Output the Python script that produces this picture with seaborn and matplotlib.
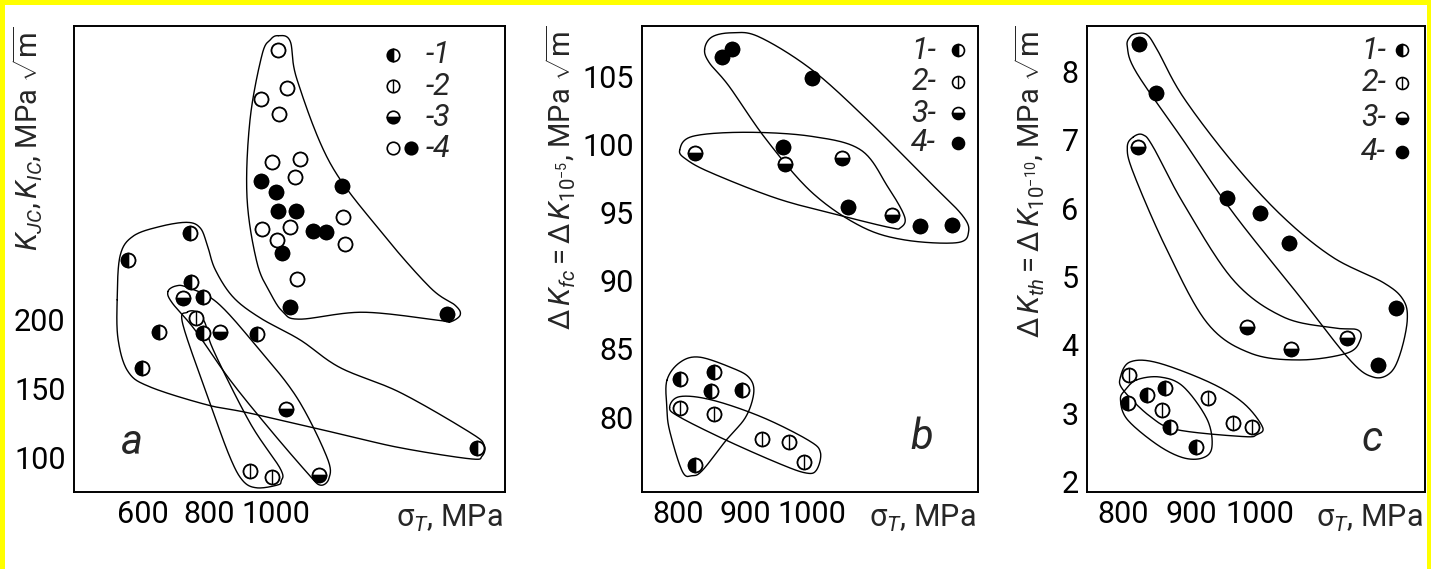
import numpy as np
import pandas as pd
import matplotlib
matplotlib.use("Agg")
import matplotlib.pyplot as plt
import seaborn as sns
from matplotlib.patches import Rectangle

# ---------------- data ----------------
# Panel a : K_JC, K_IC vs sigma_T
A1_x = [555, 597, 648, 742, 745, 781, 781, 943, 1606]
A1_y = [243, 165, 191, 262, 227, 216, 190, 189, 107]
A2_x = [760, 922, 988]
A2_y = [201, 90, 86]
A3_x = [720, 832, 1031, 1130]
A3_y = [215, 191, 135, 87]
A4_open_x = [1007, 1034, 955, 1010, 988, 1073, 1058, 958, 1043, 1003, 1202, 1208, 1064]
A4_open_y = [395, 367, 359, 348, 314, 316, 303, 265, 267, 257, 274, 254, 229]
A4_fill_x = [955, 1001, 1007, 1061, 1199, 1112, 1151, 1019, 1043, 1516]
A4_fill_y = [300, 292, 278, 278, 296, 264, 263, 248, 209, 204]

# Panel b : dK_fc vs sigma_T
B1_x = [804, 854, 849, 896, 825]
B1_y = [82.8, 83.3, 81.9, 82.0, 76.5]
B2_x = [803, 854, 925, 965, 987]
B2_y = [80.7, 80.2, 78.4, 78.2, 76.7]
B3_x = [826, 960, 1044, 1118]
B3_y = [99.4, 98.6, 99.0, 94.85]
B4_x = [866, 881, 999, 957, 1053, 1160, 1207]
B4_y = [106.4, 107.0, 104.9, 99.85, 95.4, 94.0, 94.1]

# Panel c : dK_th vs sigma_T
C1_x = [807, 835, 861, 869, 907]
C1_y = [3.15, 3.27, 3.37, 2.80, 2.51]
C2_x = [809, 924, 857, 961, 989]
C2_y = [3.56, 3.23, 3.05, 2.86, 2.80]
C3_x = [822, 982, 1046, 1128]
C3_y = [6.89, 4.26, 3.94, 4.10]
C4_x = [823, 848, 952, 1001, 1043, 1200, 1173]
C4_y = [8.39, 7.68, 6.15, 5.93, 5.49, 4.54, 3.71]

# Envelope outlines (data units)
ENV_A1_x = [522, 531, 570, 651, 733, 772, 793, 817, 871, 952, 1073, 1193, 1374, 1585, 1627, 1621, 1585, 1374, 1193, 922, 793, 621, 555, 525]
ENV_A1_y = [214, 246, 260, 267, 270, 266, 254, 236, 216, 201, 185, 165, 147, 118, 109, 101, 99, 107, 117, 132, 138, 151, 162, 185]
ENV_A2_x = [733, 763, 787, 811, 922, 1013, 1016, 1004, 943, 901, 862, 802, 720]
ENV_A2_y = [205, 205, 197, 178, 125, 92, 83, 80, 78, 83, 100, 139, 196]
ENV_A3_x = [675, 699, 733, 823, 943, 1064, 1154, 1160, 1133, 1094, 983, 862, 757, 687]
ENV_A3_y = [220, 224, 223, 212, 180, 143, 100, 85, 80, 89, 120, 156, 192, 212]
ENV_A4_x = [1007, 1043, 1064, 1163, 1314, 1464, 1540, 1555, 1525, 1495, 1263, 1073, 1022, 983, 943, 913, 922, 958, 983]
ENV_A4_y = [405, 401, 373, 313, 264, 223, 210, 203, 198, 199, 205, 200, 205, 219, 241, 288, 344, 391, 402]

ENV_B1_x = [840, 851, 881, 921, 999, 1082, 1171, 1222, 1232, 1215, 1137, 1072, 999, 931, 876, 847]
ENV_B1_y = [107.0, 107.9, 108.2, 107.9, 105.5, 101.8, 97.4, 94.85, 93.6, 92.8, 93.0, 94.0, 96.5, 100.4, 104.3, 106.0]
ENV_B2_x = [803, 822, 901, 999, 1072, 1112, 1137, 1131, 1116, 1049, 950, 851, 813]
ENV_B2_y = [99.6, 100.6, 100.9, 100.6, 99.6, 96.9, 94.7, 93.9, 93.9, 94.7, 96.0, 97.9, 98.9]
ENV_B3_x = [784, 803, 832, 881, 906, 913, 901, 872, 837, 822, 807, 788, 784]
ENV_B3_y = [82.7, 84.0, 84.4, 83.6, 82.9, 81.8, 80.0, 78.3, 76.1, 75.7, 76.0, 79.0, 80.7]
ENV_B4_x = [788, 803, 851, 925, 994, 1012, 1006, 990, 950, 872, 803]
ENV_B4_y = [80.7, 81.5, 81.25, 80.0, 78.3, 77.4, 76.1, 75.9, 76.6, 78.3, 80.0]

ENV_C1_x = [820, 835, 850, 888, 961, 1034, 1107, 1181, 1210, 1216, 1206, 1191, 1166, 1132, 1059, 961, 888, 820, 806, 810]
ENV_C1_y = [8.55, 8.53, 8.31, 7.62, 6.66, 5.87, 5.28, 4.91, 4.66, 4.36, 3.88, 3.59, 3.53, 3.78, 4.70, 5.93, 6.99, 7.97, 8.35, 8.50]
ENV_C2_x = [815, 829, 844, 888, 961, 1034, 1107, 1143, 1147, 1128, 1059, 986, 923, 864, 815, 806]
ENV_C2_y = [7.04, 7.07, 6.89, 6.07, 4.95, 4.41, 4.25, 4.22, 4.07, 3.88, 3.78, 3.88, 4.32, 5.39, 6.51, 6.89]
ENV_C3_x = [796, 810, 850, 927, 976, 1004, 996, 976, 879, 840, 800]
ENV_C3_y = [3.53, 3.75, 3.74, 3.45, 3.15, 2.80, 2.69, 2.66, 2.76, 2.95, 3.34]
ENV_C4_x = [820, 854, 888, 923, 930, 917, 888, 850, 806, 796, 803]
ENV_C4_y = [3.49, 3.53, 3.39, 2.91, 2.51, 2.35, 2.35, 2.54, 2.91, 3.20, 3.34]

A_xticks = [600, 800, 1000, 1200, 1400, 1600]
A_xticklabels = ["600", "800", "1000", "", "", ""]
A_yticks = [100, 150, 200, 250, 300, 350, 400]
A_yticklabels = ["100", "150", "200", "", "", "", ""]
BC_xticks = [800, 900, 1000, 1100, 1200]
BC_xticklabels = ["800", "900", "1000", "", ""]
B_yticks = [80, 85, 90, 95, 100, 105]
C_yticks = [2, 3, 4, 5, 6, 7, 8]

# ---------------- style ----------------
sns.set_style("white")
plt.rcParams["font.family"] = ["Roboto", "DejaVu Sans"]
plt.rcParams["mathtext.fontset"] = "custom"
plt.rcParams["mathtext.rm"] = "Roboto"
plt.rcParams["mathtext.it"] = "Roboto:italic"
plt.rcParams["mathtext.bf"] = "Roboto:bold"

W, H = 1431, 569
fig = plt.figure(figsize=(W / 100, H / 100), dpi=100)
fig.patch.set_facecolor("#ffff00")
fig.add_artist(Rectangle((5 / W, 0), (W - 9) / W, (H - 5) / H, transform=fig.transFigure,
                         facecolor="white", edgecolor="none", zorder=-10))

def px_axes(x0, x1, y0, y1):
    return fig.add_axes([x0 / W, (H - y1) / H, (x1 - x0) / W, (y1 - y0) / H])

axA = px_axes(74, 505, 26, 492)
axB = px_axes(642, 978, 26, 492)
axC = px_axes(1087, 1425, 26, 492)

MS = 10.0
MEW = 1.2
TICK_FS = 22

def smooth_closed(xs, ys, n=24):
    P = np.column_stack([xs, ys]).astype(float)
    N = len(P)
    t = np.linspace(0, 1, n, endpoint=False)[:, None]
    out = []
    for i in range(N):
        p0, p1, p2, p3 = P[(i - 1) % N], P[i], P[(i + 1) % N], P[(i + 2) % N]
        pts = 0.5 * (2 * p1 + (-p0 + p2) * t + (2 * p0 - 5 * p1 + 4 * p2 - p3) * t ** 2
                     + (-p0 + 3 * p1 - 3 * p2 + p3) * t ** 3)
        out.append(pts)
    out.append(P[:1])
    out = np.vstack(out)
    return out[:, 0], out[:, 1]

def envelope(ax, xs, ys):
    sx, sy = smooth_closed(xs, ys)
    ax.plot(sx, sy, color="black", lw=1.0, zorder=2)

def base_circles(ax, xs, ys):
    df = pd.DataFrame({"x": xs, "y": ys})
    sns.scatterplot(data=df, x="x", y="y", ax=ax, s=(MS) ** 2, color="white",
                    edgecolor="black", linewidth=MEW, zorder=3, legend=False)

def draw_group(ax, kind, xs, ys, ms=MS, transform=None, clip=True):
    kw = dict(linestyle="", marker="o", markersize=ms, markeredgecolor="black",
              markeredgewidth=MEW, zorder=4, clip_on=clip)
    if transform is not None:
        kw["transform"] = transform
    if kind == 1:
        ax.plot(xs, ys, fillstyle="left", markerfacecolor="black",
                markerfacecoloralt="white", **kw)
    elif kind == 2:
        ax.plot(xs, ys, markerfacecolor="white", **kw)
        kw2 = dict(kw)
        kw2.update(marker="|", markeredgewidth=1.0)
        ax.plot(xs, ys, color="black", **kw2)
    elif kind == 3:
        ax.plot(xs, ys, fillstyle="bottom", markerfacecolor="black",
                markerfacecoloralt="white", **kw)
    elif kind == 4:
        ax.plot(xs, ys, markerfacecolor="black", **kw)
    elif kind == 0:
        ax.plot(xs, ys, markerfacecolor="white", **kw)

def style_axes(ax, xlim, ylim, xticks, xtl, yticks, ytl):
    ax.set_xlim(*xlim)
    ax.set_ylim(*ylim)
    ax.set_xticks(xticks)
    ax.set_xticklabels(xtl)
    ax.set_yticks(yticks)
    ax.set_yticklabels(ytl)
    ax.tick_params(direction="in", length=8, width=1.3, labelsize=TICK_FS, pad=6,
                   colors="black")
    for s in ax.spines.values():
        s.set_visible(True)
        s.set_color("black")
        s.set_linewidth(1.4)
    ax.set_xlabel("")
    ax.annotate(r"$\mathrm{\sigma}_T$, MPa", xy=(1.0, 0), xycoords="axes fraction",
                xytext=(-1, -8), textcoords="offset points", ha="right", va="top",
                fontsize=TICK_FS)

# ---------------- panel a ----------------
for ex, ey in [(ENV_A1_x, ENV_A1_y), (ENV_A2_x, ENV_A2_y), (ENV_A3_x, ENV_A3_y), (ENV_A4_x, ENV_A4_y)]:
    envelope(axA, ex, ey)
base_circles(axA, A1_x + A2_x + A3_x + A4_open_x + A4_fill_x, A1_y + A2_y + A3_y + A4_open_y + A4_fill_y)
draw_group(axA, 1, A1_x, A1_y)
draw_group(axA, 2, A2_x, A2_y)
draw_group(axA, 3, A3_x, A3_y)
draw_group(axA, 0, A4_open_x, A4_open_y)
draw_group(axA, 4, A4_fill_x, A4_fill_y)
style_axes(axA, (392, 1690), (75, 412), A_xticks, A_xticklabels, A_yticks, A_yticklabels)
axA.set_ylabel(r"$K_{JC}, K_{IC}$, MPa $\sqrt{\mathrm{m}}$", fontsize=21, loc="top")
axA.yaxis.set_label_coords(-0.067, 1.0)
axA.text(0.135, 0.107, "a", transform=axA.transAxes, fontsize=30, style="italic",
         ha="center", va="center")
leg_rows = [0.938, 0.871, 0.804, 0.738]
for k, fy in zip([1, 2, 3, 0], leg_rows):
    draw_group(axA, k, [0.740], [fy], ms=9.0, transform=axA.transAxes, clip=False)
draw_group(axA, 4, [0.782], [leg_rows[3]], ms=9.0, transform=axA.transAxes, clip=False)
for lab, fy in zip(["-1", "-2", "-3", "-4"], leg_rows):
    axA.text(0.815, fy, lab, transform=axA.transAxes, fontsize=22, style="italic",
             ha="left", va="center")

# ---------------- panel b ----------------
for ex, ey in [(ENV_B1_x, ENV_B1_y), (ENV_B2_x, ENV_B2_y), (ENV_B3_x, ENV_B3_y), (ENV_B4_x, ENV_B4_y)]:
    envelope(axB, ex, ey)
base_circles(axB, B1_x + B2_x + B3_x + B4_x, B1_y + B2_y + B3_y + B4_y)
draw_group(axB, 1, B1_x, B1_y)
draw_group(axB, 2, B2_x, B2_y)
draw_group(axB, 3, B3_x, B3_y)
draw_group(axB, 4, B4_x, B4_y)
style_axes(axB, (747, 1246), (74.5, 108.7), BC_xticks, BC_xticklabels, B_yticks,
           [str(v) for v in B_yticks])
axB.set_ylabel(r"$\Delta\, K_{fc} = \Delta\, K_{10^{-5}}$, MPa $\sqrt{\mathrm{m}}$", fontsize=21, loc="top")
axB.yaxis.set_label_coords(-0.19, 1.0)
axB.text(0.833, 0.118, "b", transform=axB.transAxes, fontsize=30, style="italic",
         ha="center", va="center")
legB_rows = [0.948, 0.880, 0.813, 0.749]
for k, fy, lab in zip([1, 2, 3, 4], legB_rows, ["1-", "2-", "3-", "4-"]):
    draw_group(axB, k, [0.940], [fy], ms=8.6, transform=axB.transAxes, clip=False)
    axB.text(0.875, fy, lab, transform=axB.transAxes, fontsize=22, style="italic",
             ha="right", va="center")

# ---------------- panel c ----------------
for ex, ey in [(ENV_C1_x, ENV_C1_y), (ENV_C2_x, ENV_C2_y), (ENV_C3_x, ENV_C3_y), (ENV_C4_x, ENV_C4_y)]:
    envelope(axC, ex, ey)
base_circles(axC, C1_x + C2_x + C3_x + C4_x, C1_y + C2_y + C3_y + C4_y)
draw_group(axC, 1, C1_x, C1_y)
draw_group(axC, 2, C2_x, C2_y)
draw_group(axC, 3, C3_x, C3_y)
draw_group(axC, 4, C4_x, C4_y)
style_axes(axC, (747, 1242), (1.85, 8.66), BC_xticks, BC_xticklabels, C_yticks,
           [str(v) for v in C_yticks])
axC.set_ylabel(r"$\Delta\, K_{th} = \Delta\, K_{10^{-10}}$, MPa $\sqrt{\mathrm{m}}$", fontsize=21, loc="top")
axC.yaxis.set_label_coords(-0.118, 1.0)
axC.text(0.843, 0.112, "c", transform=axC.transAxes, fontsize=30, style="italic",
         ha="center", va="center")
legC_rows = [0.948, 0.878, 0.803, 0.730]
for k, fy, lab in zip([1, 2, 3, 4], legC_rows, ["1-", "2-", "3-", "4-"]):
    draw_group(axC, k, [0.932], [fy], ms=8.6, transform=axC.transAxes, clip=False)
    axC.text(0.885, fy, lab, transform=axC.transAxes, fontsize=22, style="italic",
             ha="right", va="center")

fig.savefig("out.png", dpi=100, facecolor=fig.get_facecolor())
